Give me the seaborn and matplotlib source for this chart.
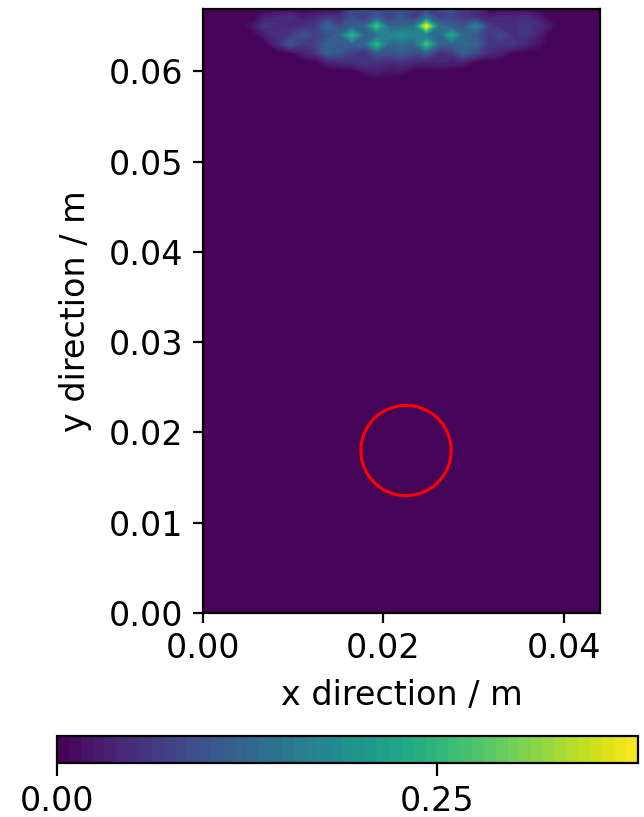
import numpy as np
import matplotlib
matplotlib.use("Agg")
import matplotlib.pyplot as plt
import seaborn as sns
from matplotlib.patches import Circle

# ---------------- data ----------------
x_extent = 0.044          # domain width (m)
y_extent = 0.0669         # domain height shown (m)
n_cols = 33               # grid columns across the width
# y positions of the rows holding non-zero values (top band of the domain)
band_rows_y = [0.067, 0.066, 0.065, 0.064, 0.063, 0.062, 0.061, 0.060]

row_0670 = [0, 0, 0, 0, 0, 0, 0, 0, 0, 0, 0, 0,
            0.08, 0.09, 0.07, 0.08, 0.09, 0.07, 0.06, 0.07, 0.09, 0.06, 0.04,
            0, 0, 0, 0, 0, 0, 0, 0, 0, 0]
row_0660 = [0, 0, 0, 0, 0,
            0.03, 0.04, 0.05, 0.03, 0.04, 0.06, 0.05, 0.09, 0.06, 0.11, 0.07, 0.10,
            0.06, 0.13, 0.07, 0.08, 0.06, 0.05, 0.03, 0.04, 0.04, 0.05, 0.03,
            0, 0, 0, 0, 0]
row_0650 = [0, 0, 0, 0,
            0.02, 0.06, 0.05, 0.04, 0.05, 0.06, 0.13, 0.08, 0.11, 0.12, 0.27, 0.12,
            0.12, 0.14, 0.38, 0.14, 0.11, 0.10, 0.17, 0.07, 0.05, 0.05, 0.06, 0.05, 0.02,
            0, 0, 0, 0]
row_0640 = [0, 0, 0, 0, 0,
            0.03, 0.05, 0.06, 0.10, 0.07, 0.09, 0.12, 0.25, 0.12, 0.13, 0.17, 0.19,
            0.17, 0.15, 0.12, 0.23, 0.12, 0.10, 0.06, 0.08, 0.05, 0.06, 0.03,
            0, 0, 0, 0, 0]
row_0630 = [0, 0, 0, 0, 0, 0,
            0.04, 0.10, 0.06, 0.07, 0.12, 0.11, 0.11, 0.12, 0.25, 0.12, 0.13,
            0.12, 0.27, 0.12, 0.11, 0.13, 0.12, 0.06, 0.06, 0.06, 0.04, 0.02,
            0, 0, 0, 0, 0]
row_0620 = [0, 0, 0, 0, 0, 0, 0, 0,
            0.03, 0.05, 0.11, 0.10, 0.07, 0.05, 0.10, 0.09, 0.11, 0.08, 0.10,
            0.05, 0.06, 0.11, 0.08, 0.04, 0.03,
            0, 0, 0, 0, 0, 0, 0, 0]
row_0610 = [0, 0, 0, 0, 0, 0, 0, 0, 0, 0,
            0.03, 0.04, 0.05, 0.06, 0.05, 0.04, 0.05, 0.04, 0.03, 0.04, 0.03, 0.03,
            0, 0, 0, 0, 0, 0, 0, 0, 0, 0, 0]
row_0600 = [0, 0, 0, 0, 0, 0, 0, 0, 0, 0, 0, 0, 0,
            0.02, 0.03, 0.02, 0.02,
            0, 0, 0, 0, 0, 0, 0, 0, 0, 0, 0, 0, 0, 0, 0, 0]
band_values = [row_0670, row_0660, row_0650, row_0640,
               row_0630, row_0620, row_0610, row_0600]

circle_center = (0.0225, 0.018)
circle_radius = 0.005

value_max = 0.382
n_levels = 50
x_ticks = [0.00, 0.02, 0.04]
y_ticks = [0.00, 0.01, 0.02, 0.03, 0.04, 0.05, 0.06]
cbar_ticks = [0.00, 0.25]
x_label = "x direction / m"
y_label = "y direction / m"

# ---------------- style ----------------
sns.set_theme(style="ticks", rc={
    "axes.edgecolor": "black", "xtick.color": "black", "ytick.color": "black",
    "text.color": "black", "axes.labelcolor": "black",
    "axes.linewidth": 0.8, "xtick.major.width": 0.8, "ytick.major.width": 0.8,
    "xtick.major.size": 3.5, "ytick.major.size": 3.5,
})
plt.rcParams["font.family"] = ["DejaVu Sans"]
for key in ["font.size", "axes.labelsize", "xtick.labelsize", "ytick.labelsize"]:
    plt.rcParams[key] = 12

cmap = sns.color_palette("viridis", as_cmap=True)

# ---------------- grid ----------------
xs = np.linspace(0, x_extent, n_cols)
# zero padding rows below the band, then the band rows bottom-to-top
ys = np.array([0.0, band_rows_y[-1] - 0.001] + band_rows_y[::-1])
Z = np.vstack([np.zeros(n_cols), np.zeros(n_cols)] +
              [np.array(r, dtype=float) for r in band_values[::-1]])
X, Y = np.meshgrid(xs, ys)

fig = plt.figure(figsize=(3.22, 4.085), dpi=200)
ax = fig.add_axes([203 / 644, 1 - 613 / 817, 397 / 644, 604 / 817])
levels = np.linspace(0, value_max, n_levels)
cs = ax.contourf(X, Y, Z, levels=levels, cmap=cmap, vmin=0, vmax=value_max)

ax.add_patch(Circle(circle_center, circle_radius, fill=False,
                    edgecolor="red", linewidth=1.1))

ax.set_xlim(0, x_extent)
ax.set_ylim(0, y_extent)
ax.set_xticks(x_ticks)
ax.set_yticks(y_ticks)
ax.xaxis.set_major_formatter(matplotlib.ticker.FormatStrFormatter("%.2f"))
ax.yaxis.set_major_formatter(matplotlib.ticker.FormatStrFormatter("%.2f"))
ax.set_xlabel(x_label, labelpad=5)
ax.set_ylabel(y_label, labelpad=6)

cax = fig.add_axes([57 / 644, 1 - 763 / 817, 581 / 644, 27 / 817])
cb = fig.colorbar(cs, cax=cax, orientation="horizontal")
cb.set_ticks(cbar_ticks)
cb.ax.xaxis.set_major_formatter(matplotlib.ticker.FormatStrFormatter("%.2f"))
cb.ax.tick_params(length=4.5, pad=3.5)
cb.outline.set_linewidth(0.8)

fig.savefig("out.png", dpi=200)
